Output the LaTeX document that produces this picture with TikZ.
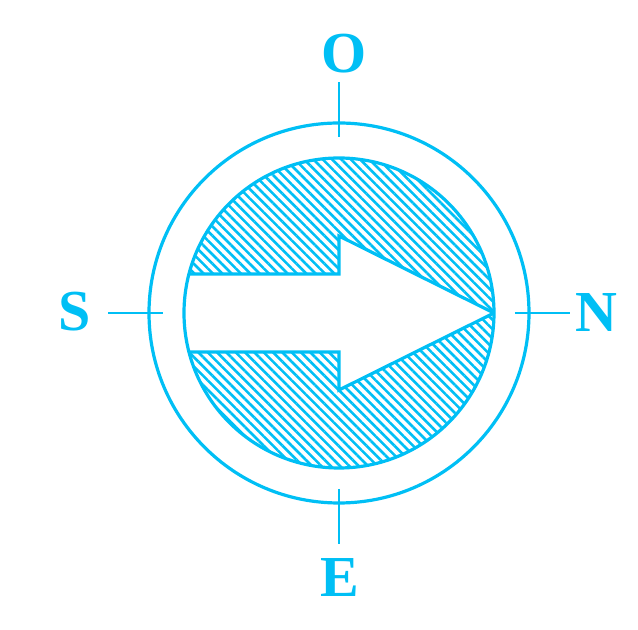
\documentclass[tikz,border=0pt]{standalone}
\usepackage{fontspec}
\setmainfont{Liberation Serif}[BoldFont={Liberation Serif Bold}]
\usepackage{tikz}
\usetikzlibrary{calc, patterns.meta}
\definecolor{dialBlue}{HTML}{00BFF5}
\tikzset{
  ring/.style={draw=dialBlue, line width=1.6pt},
  dialtick/.style={draw=dialBlue, line width=1.3pt},
  hatch/.style={
    pattern={Lines[angle=-45, distance=3.3pt, line width=1.3pt]},
    pattern color=dialBlue
  },
  cardinal/.style={
    text=dialBlue, inner sep=0pt,
    font=\fontsize{29}{31}\selectfont\bfseries
  }
}

\begin{document}
\begin{tikzpicture}[x=0.5pt, y=0.5pt]
  \useasboundingbox (-339,-317) rectangle (299,313);
  \coordinate (c) at (0,0);
  % hatched disc with the arrow left blank
  \begin{scope}
    \clip (c) circle (155);
    \fill[hatch, even odd rule] (c) circle (155)
      (-200,39) -- (0,39) -- (0,77) -- (155,0) -- (0,-77) -- (0,-39) -- (-200,-39) -- cycle;
    \draw[ring] (-200,39) -- (0,39) -- (0,77) -- (155,0) -- (0,-77) -- (0,-39) -- (-200,-39);
  \end{scope}
  \draw[ring] (c) circle (155);
  \draw[ring] (c) circle (190);
  \foreach \a in {0,90,180,270}
    \draw[dialtick] ($(c)+(\a:176)$) -- ($(c)+(\a:231)$);
  \node[cardinal] (lblO) at (5,259) {O};
  \node[cardinal] (lblS) at (-264,1) {S};
  \node[cardinal] (lblN) at (257,0) {N};
  \node[cardinal] (lblE) at (1,-265) {E};
\end{tikzpicture}
\end{document}
